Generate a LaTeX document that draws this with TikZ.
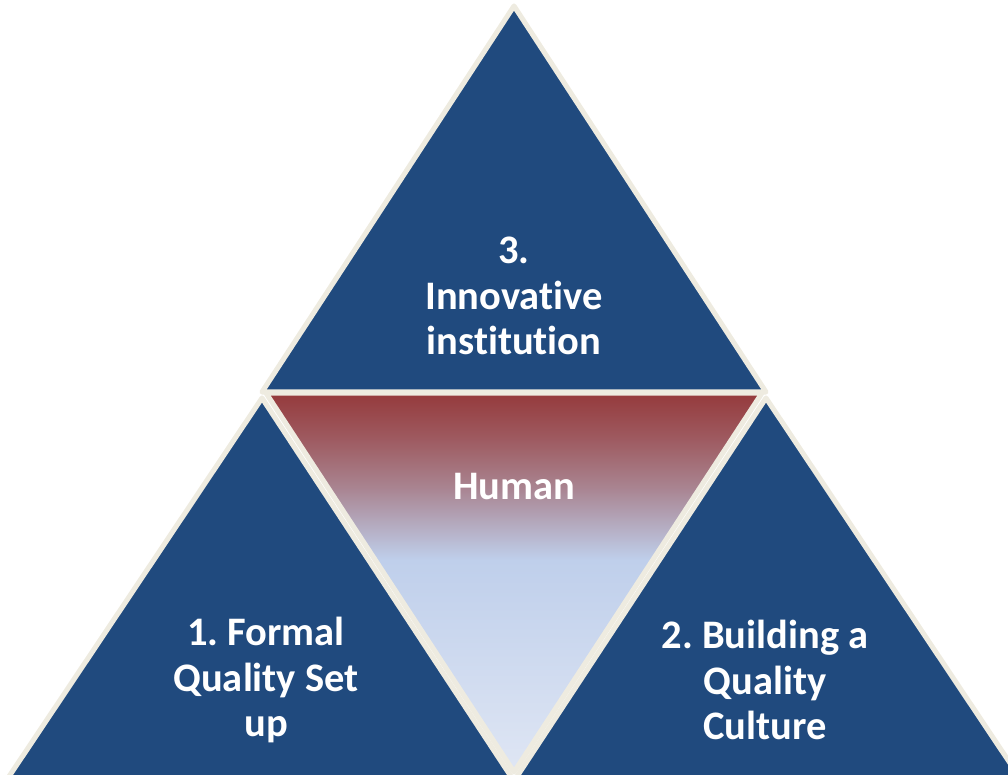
\documentclass[tikz,border=0pt]{standalone}
\usepackage{fontspec}
\setmainfont{Carlito}[Ligatures=NoCommon]
\definecolor{tblue}{HTML}{204A7E}
\definecolor{tcream}{HTML}{EEEBE0}
\definecolor{gred}{HTML}{953A3C}
\definecolor{gred2}{HTML}{9E5A60}
\definecolor{gmauve}{HTML}{A98491}
\definecolor{glb}{HTML}{BFCFEB}
\definecolor{glb2}{HTML}{DFE6F4}
\pgfdeclareverticalshading{humanshade}{100bp}{color(0bp)=(glb2); color(25bp)=(glb2); color(53bp)=(glb); color(62.5bp)=(gmauve); color(69bp)=(gred2); color(75bp)=(gred); color(100bp)=(gred)}
\frenchspacing
\begin{document}
\begin{tikzpicture}[x=0.025cm,y=-0.025cm,
  tri/.style={fill=tblue},
  edge/.style={draw=tcream,line width=3.6pt,line join=round},
  lbl/.style={text=white,align=center,font=\bfseries\fontsize{28.8}{32.4}\selectfont}]
\useasboundingbox (0,0) rectangle (1008,775);
\clip (0,0) rectangle (1008,775);
% top triangle
\path[tri] (514,6) -- (262,392) -- (766,392) -- cycle;
% left triangle
\path[tri] (262,398) -- (8,778) -- (512,778) -- cycle;
% right triangle
\path[tri] (766,398) -- (516,778) -- (1020,778) -- cycle;
% middle inverted triangle
\path[shading=humanshade] (266,393) -- (762,393) -- (514,772) -- cycle;
% borders
\draw[edge] (514,6) -- (262,392) -- (766,392) -- cycle;
\draw[edge] (262,398) -- (8,778) -- (512,778) -- cycle;
\draw[edge] (766,398) -- (516,778) -- (1020,778) -- cycle;
\draw[edge] (266,393) -- (762,393) -- (514,772) -- cycle;
% labels
\node[lbl] (top) at (514,296) {3.\\Innovative\\institution};
\node[lbl] (human) at (514,487) {Human};
\node[lbl] (left) at (266,680) {1. Formal\\Quality Set\\up};
\node[lbl] (right) at (765,680) {2. Building a\\Quality\\Culture};
\end{tikzpicture}
\end{document}
